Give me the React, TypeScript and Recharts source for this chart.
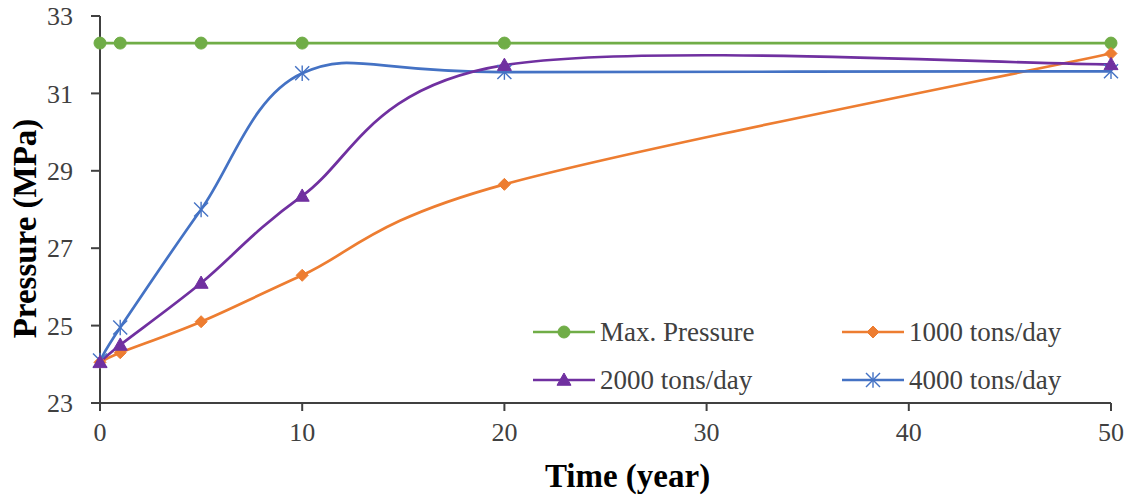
import React from "react";
import { LineChart, Line, XAxis, YAxis, Legend } from "recharts";

const years = [0, 1, 5, 10, 20, 50];
const maxPressure = [32.3, 32.3, 32.3, 32.3, 32.3, 32.3];
const tons1000 = [24.05, 24.3, 25.1, 26.3, 28.65, 32.03];
const tons2000 = [24.05, 24.5, 26.1, 28.35, 31.73, 31.75];
const tons4000 = [24.1, 24.95, 28.0, 31.52, 31.55, 31.57];
const xTicks = [0, 10, 20, 30, 40, 50];
const yTicks = [23, 25, 27, 29, 31, 33];

const seriesNames = ["Max. Pressure", "1000 tons/day", "2000 tons/day", "4000 tons/day"];
const seriesColors = ["#70AD47", "#ED7D31", "#7030A0", "#4472C4"];

const data = years.map((y, i) => ({
  year: y,
  max: maxPressure[i],
  t1000: tons1000[i],
  t2000: tons2000[i],
  t4000: tons4000[i],
}));

// Excel-like smoothed curve (Catmull-Rom style Bezier)
const excelCurve = (context: any) => {
  let pts: number[][] = [];
  return {
    areaStart() {},
    areaEnd() {},
    lineStart() {
      pts = [];
    },
    point(x: number, y: number) {
      pts.push([+x, +y]);
    },
    lineEnd() {
      const n = pts.length;
      if (!n) return;
      context.moveTo(pts[0][0], pts[0][1]);
      for (let i = 0; i < n - 1; i++) {
        const p0 = pts[Math.max(i - 1, 0)];
        const p1 = pts[i];
        const p2 = pts[i + 1];
        const p3 = pts[Math.min(i + 2, n - 1)];
        const c1x = p1[0] + (p2[0] - p0[0]) / 6;
        const c1y = p1[1] + (p2[1] - p0[1]) / 6;
        const c2x = p2[0] - (p3[0] - p1[0]) / 6;
        const c2y = p2[1] - (p3[1] - p1[1]) / 6;
        context.bezierCurveTo(c1x, c1y, c2x, c2y, p2[0], p2[1]);
      }
    },
  };
};

type MarkerKind = "circle" | "diamond" | "triangle" | "star";
const markerKinds: MarkerKind[] = ["circle", "diamond", "triangle", "star"];

const Marker = ({ kind, cx, cy, color }: { kind: MarkerKind; cx: number; cy: number; color: string }) => {
  if (kind === "circle") return <circle cx={cx} cy={cy} r={6} fill={color} stroke={color} />;
  if (kind === "diamond") {
    const s = 6;
    return (
      <polygon
        points={`${cx},${cy - s} ${cx + s},${cy} ${cx},${cy + s} ${cx - s},${cy}`}
        fill={color}
        stroke={color}
      />
    );
  }
  if (kind === "triangle") {
    const s = 7;
    return (
      <polygon
        points={`${cx},${cy - s} ${cx + s},${cy + s * 0.75} ${cx - s},${cy + s * 0.75}`}
        fill={color}
        stroke={color}
      />
    );
  }
  const s = 7;
  return (
    <g stroke={color} strokeWidth={1.4}>
      <line x1={cx - s} y1={cy - s} x2={cx + s} y2={cy + s} />
      <line x1={cx - s} y1={cy + s} x2={cx + s} y2={cy - s} />
      <line x1={cx} y1={cy - s * 1.1} x2={cx} y2={cy + s * 1.1} />
    </g>
  );
};

const makeDot = (kind: MarkerKind, color: string) => (props: any) => (
  <Marker key={`${kind}-${props.index}`} kind={kind} cx={props.cx} cy={props.cy} color={color} />
);

const LegendContent = () => (
  <div
    style={{
      display: "grid",
      gridTemplateColumns: "309px 260px",
      gridAutoRows: "48px",
      fontFamily: "'Liberation Serif', 'Times New Roman', serif",
      fontSize: 27,
      color: "#404040",
    }}
  >
    {seriesNames.map((name, i) => (
      <div key={name} style={{ display: "flex", alignItems: "center", whiteSpace: "nowrap" }}>
        <svg width={64} height={24} style={{ marginRight: 3 }}>
          <line x1={0} y1={12} x2={62} y2={12} stroke={seriesColors[i]} strokeWidth={2.5} />
          <Marker kind={markerKinds[i]} cx={31} cy={12} color={seriesColors[i]} />
        </svg>
        <span>{name}</span>
      </div>
    ))}
  </div>
);

const fontFamily = "'Liberation Serif', 'Times New Roman', serif";
const tickStyle = { fontFamily, fontSize: 26, fill: "#404040" };
const titleStyle = {
  fontFamily,
  fontSize: 33,
  fontWeight: "bold" as const,
  fill: "#000",
};

const YTitle = (props: any) => {
  const vb = props.viewBox || {};
  const cx = 25;
  const cy = (vb.y ?? 16) + (vb.height ?? 387) / 2 + 19;
  return (
    <text
      x={cx}
      y={cy}
      transform={`rotate(-90, ${cx}, ${cy})`}
      textAnchor="middle"
      dominantBaseline="central"
      style={titleStyle}
    >
      Pressure (MPa)
    </text>
  );
};

export default function App() {
  const keys = ["max", "t1000", "t2000", "t4000"];
  const order = [0, 1, 3, 2];
  return (
    <div style={{ position: "absolute", left: 0, top: 0, width: 1131, height: 497, background: "#fff" }}>
      <LineChart width={1131} height={497} data={data} margin={{ top: 16, right: 20, bottom: 0, left: 0 }}>
        <XAxis
          dataKey="year"
          type="number"
          domain={[0, 50]}
          ticks={xTicks}
          tick={tickStyle}
          tickSize={8}
          tickMargin={12}
          height={94}
          stroke="#404040"
          strokeWidth={2}
          tickLine={{ stroke: "#404040", strokeWidth: 2 }}
          label={{ value: "Time (year)", position: "insideBottom", offset: 10, dx: 22, style: titleStyle }}
        />
        <XAxis xAxisId="top" orientation="top" type="number" domain={[0, 50]} tick={false} tickLine={false} height={0} stroke="#404040" strokeWidth={2} />
        <YAxis
          type="number"
          domain={[23, 33]}
          ticks={yTicks}
          tick={tickStyle}
          tickSize={9}
          tickMargin={18}
          width={100}
          stroke="#404040"
          strokeWidth={2}
          tickLine={{ stroke: "#404040", strokeWidth: 2 }}
          label={<YTitle />}
        />
        <YAxis yAxisId="right" orientation="right" domain={[23, 33]} tick={false} tickLine={false} width={0} stroke="#404040" strokeWidth={2} />
        <Legend
          layout="vertical"
          align="center"
          verticalAlign="middle"
          content={<LegendContent />}
          wrapperStyle={{ left: 533, top: 308, width: 580, height: 100 }}
        />
        {order.map((i) => (
          <Line
            key={keys[i]}
            dataKey={keys[i]}
            name={seriesNames[i]}
            type={excelCurve as any}
            stroke={seriesColors[i]}
            strokeWidth={2.7}
            dot={makeDot(markerKinds[i], seriesColors[i])}
            activeDot={false}
            isAnimationActive={false}
          />
        ))}
      </LineChart>
    </div>
  );
}
